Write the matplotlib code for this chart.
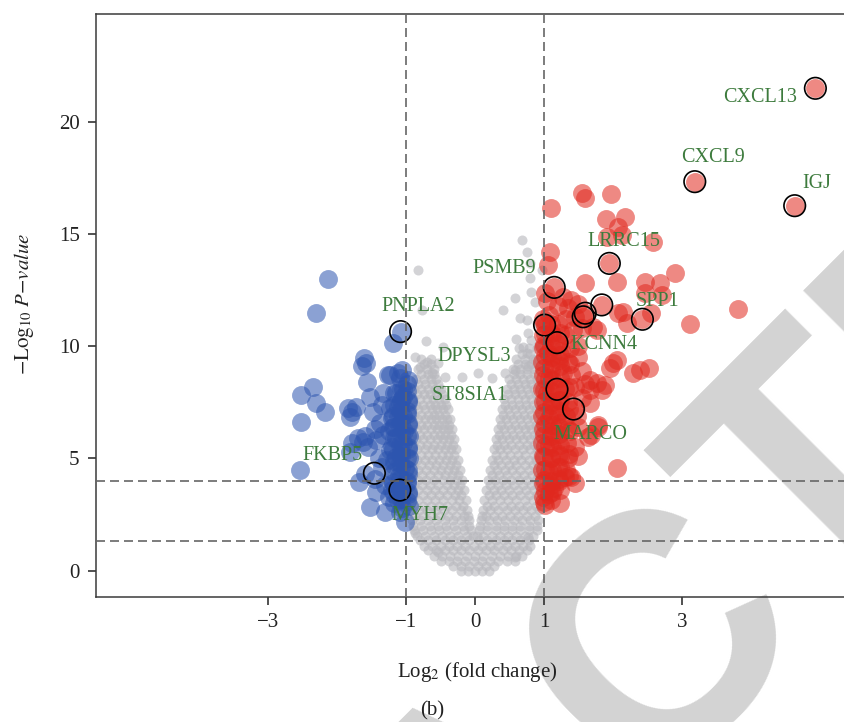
import numpy as np
import matplotlib.pyplot as plt

plt.rcParams['font.family'] = ['Liberation Serif', 'DejaVu Serif']
plt.rcParams['mathtext.fontset'] = 'stix'

# down-regulated genes (log2 fold change, -log10 p)
down_x = [-2.13, -2.30, -1.08, -1.19, -1.61, -1.58, -1.57, -1.23, -1.11, -1.06, -2.35, -2.52,
          -2.30, -2.18, -2.52, -1.52, -1.33, -1.72, -1.79, -1.81, -1.84, -1.48, -1.23, -1.04,
          -1.09, -1.11, -1.19, -1.33, -1.43, -1.62, -1.79, -1.81, -1.23, -1.14, -1.28, -1.09,
          -1.02, -2.54, -1.69, -1.43, -1.19, -1.52, -1.06, -1.11, -1.09, -1.02, -1.26, -1.09,
          -0.98, -1.05, -1.15, -0.97, -1.12, -0.98, -1.05, -1.20, -0.97, -1.10, -1.03, -1.25,
          -0.96, -1.15, -1.05, -0.97, -1.20, -1.08, -0.96, -1.18, -0.97, -1.10, -0.98, -1.20,
          -0.97, -1.25, -0.96, -1.30, -1.35, -1.40, -1.38, -1.35, -1.45, -1.60, -1.55, -1.70,
          -1.45, -1.60, -1.30, -1.64,
          -0.98, -1.08, -1.18, -0.97, -1.07, -1.17, -0.98, -1.09, -1.19, -0.97, -1.08, -1.18,
          -0.98, -1.07, -1.17, -0.97, -1.09, -1.19, -0.98, -1.08, -1.18, -0.97, -1.07, -1.17,
          -0.98, -1.09, -1.19, -0.97, -1.08, -1.18, -0.98, -1.07, -1.17, -0.97, -1.09]
down_y = [12.99, 11.47, 10.65, 10.13, 9.46, 9.24, 8.42, 8.72, 8.79, 8.94, 8.20, 7.83,
          7.46, 7.08, 6.64, 7.75, 7.90, 7.30, 7.08, 6.86, 7.23, 7.08, 7.23, 7.75,
          7.46, 6.86, 6.41, 6.04, 5.82, 5.75, 5.67, 5.30, 5.38, 5.08, 4.93, 4.78,
          4.56, 4.49, 3.97, 3.52, 3.97, 2.85, 2.78, 3.15, 2.63, 2.18, 8.72, 3.59,
          8.30, 8.10, 7.90, 7.60, 7.30, 7.10, 6.90, 6.80, 6.60, 6.50, 6.20, 6.20,
          6.00, 5.90, 5.70, 5.40, 5.50, 5.30, 5.00, 4.70, 4.30, 4.20, 3.90, 3.60,
          3.40, 3.30, 2.90, 3.80, 4.60, 5.00, 6.60, 7.40, 6.30, 6.00, 5.50, 5.90,
          4.10, 4.30, 2.60, 9.10,
          3.10, 3.20, 3.00, 3.50, 3.60, 3.40, 4.00, 4.10, 3.90, 4.50, 4.60, 4.40,
          5.00, 5.10, 4.90, 5.50, 5.60, 5.40, 6.00, 6.10, 5.90, 6.50, 6.60, 6.40,
          7.00, 7.10, 6.90, 7.50, 7.60, 7.40, 8.00, 8.10, 7.90, 8.50, 8.60]

# up-regulated genes
up_x = [4.94, 3.19, 4.64, 1.95, 1.15, 2.43, 1.84, 1.60, 1.57, 1.01, 1.19, 1.19, 1.43,
        1.55, 1.59, 1.97, 1.11, 1.90, 2.18, 2.07, 2.13, 1.91, 2.59, 1.09, 1.06, 2.06,
        1.59, 2.91, 2.47, 2.69, 2.71, 2.47, 3.82, 3.12, 2.56, 2.20, 2.08, 1.40, 1.28,
        1.02, 1.72, 1.77, 2.15, 2.01, 1.96, 2.39, 2.52, 1.67, 1.77, 1.89, 1.84, 1.67,
        1.67, 1.79, 1.64, 2.06, 1.31, 1.14, 1.02, 1.69, 1.79, 1.40, 2.29, 2.06,
        1.05, 1.20, 1.35, 1.50,
        0.98, 1.08, 1.20, 1.32, 1.45, 0.98, 1.10, 1.30, 1.42, 1.55,
        0.98, 1.06, 1.25, 1.38, 1.50, 0.97, 1.10, 1.22, 1.35, 1.50,
        0.98, 1.08, 1.28, 1.40, 1.55, 0.97, 1.05, 1.30, 1.45, 1.60,
        0.98, 1.10, 1.22, 1.35, 1.55, 0.97, 1.08, 1.20, 1.32, 1.48,
        0.98, 1.10, 1.22, 1.35, 1.50, 0.97, 1.08, 1.20, 1.33, 1.45,
        0.98, 1.10, 1.22, 1.35, 1.50, 0.97, 1.08, 1.20, 1.32, 0.98,
        1.10, 1.22, 1.45, 0.98, 1.08,
        1.00, 1.11, 1.23, 1.01, 1.12, 1.24, 1.00, 1.10, 1.22, 1.36, 1.01, 1.12, 1.24,
        1.00, 1.11, 1.23, 1.37, 1.01, 1.12, 1.24, 1.00, 1.10, 1.22, 1.38, 1.01, 1.12,
        1.24, 1.00, 1.11, 1.23, 1.36, 1.01, 1.12, 1.24, 1.00, 1.10, 1.22, 1.37, 1.01,
        1.12, 1.24, 1.00, 1.11, 1.23, 1.38, 1.01, 1.12, 1.24, 1.00, 1.10, 1.22, 1.01,
        1.12, 1.24, 1.00, 1.11]
up_y = [21.49, 17.33, 16.26, 13.69, 12.62, 11.20, 11.84, 11.47, 11.31, 10.94, 10.16, 8.08, 7.20,
        16.81, 16.59, 16.77, 16.14, 15.65, 15.77, 15.30, 14.95, 14.88, 14.66, 14.21, 13.62, 12.87,
        12.80, 13.27, 12.87, 12.80, 12.28, 12.36, 11.64, 10.99, 11.46, 11.02, 11.49, 12.06, 12.20,
        12.36, 10.87, 10.72, 11.54, 9.24, 9.02, 8.94, 9.02, 8.49, 8.35, 8.27, 8.05, 8.05,
        7.46, 6.41, 5.97, 4.56, 4.19, 3.67, 2.93, 6.04, 6.49, 4.19, 8.80, 9.40,
        12.00, 11.80, 11.70, 11.90,
        11.2, 11.4, 11.0, 11.2, 11.3, 10.5, 10.6, 10.5, 10.7, 10.8,
        9.9, 9.7, 9.8, 9.9, 10.0, 9.3, 9.2, 9.4, 9.3, 9.5,
        8.7, 8.6, 8.8, 8.7, 8.9, 8.1, 7.9, 8.1, 8.2, 8.3,
        7.5, 7.4, 7.6, 7.5, 7.7, 6.9, 6.8, 7.0, 6.9, 6.9,
        6.3, 6.2, 6.4, 6.3, 6.4, 5.7, 5.6, 5.8, 5.7, 5.5,
        5.1, 5.0, 5.2, 5.0, 5.1, 4.5, 4.4, 4.6, 4.5, 3.9,
        3.8, 4.0, 3.9, 3.3, 3.4,
        3.05, 3.15, 3.00, 3.55, 3.50, 3.60, 4.05, 4.00, 4.10, 4.20, 4.55, 4.50, 4.60,
        5.05, 5.00, 5.10, 5.20, 5.55, 5.50, 5.60, 6.05, 6.00, 6.10, 6.20, 6.55, 6.50,
        6.60, 7.05, 7.00, 7.10, 7.20, 7.55, 7.50, 7.60, 8.05, 8.00, 8.10, 8.20, 8.55,
        8.50, 8.60, 9.05, 9.00, 9.10, 9.20, 9.55, 9.50, 9.60, 10.05, 10.00, 10.10, 10.55,
        10.50, 10.60, 11.05, 11.00]

# non-significant genes: body of the volcano, one row per -log10 p level
ns_row_y = [0.0, 0.2, 0.45, 0.65, 0.9, 1.1, 1.35, 1.55, 1.8, 2.0, 2.25, 2.45, 2.7, 2.9,
            3.15, 3.35, 3.6, 3.8, 4.05, 4.25, 4.5, 4.7, 4.95, 5.15, 5.4, 5.6, 5.85, 6.05,
            6.3, 6.5, 6.75, 6.95, 7.2, 7.4, 7.65, 7.85, 8.1, 8.3, 8.55, 8.75, 9.0, 9.2,
            9.45, 9.65, 9.9]
ns_row_x = [
    [-0.2, -0.1, 0.0, 0.1, 0.2],
    [-0.32, -0.2, -0.08, 0.04, 0.16, 0.28],
    [-0.5, -0.38, -0.26, -0.14, -0.02, 0.1, 0.22, 0.34, 0.46, 0.58],
    [-0.6, -0.48, -0.36, -0.24, -0.12, 0.0, 0.12, 0.24, 0.36, 0.48, 0.6, 0.68],
    [-0.68, -0.56, -0.44, -0.32, -0.2, -0.08, 0.04, 0.16, 0.28, 0.4, 0.52, 0.64, 0.76],
    [-0.74, -0.62, -0.5, -0.38, -0.26, -0.14, -0.02, 0.1, 0.22, 0.34, 0.46, 0.58, 0.7, 0.8],
    [-0.8, -0.68, -0.56, -0.44, -0.32, -0.2, -0.08, 0.06, 0.18, 0.3, 0.42, 0.54, 0.66, 0.78],
    [-0.84, -0.72, -0.6, -0.48, -0.36, -0.24, -0.12, -0.03, 0.03, 0.12, 0.24, 0.36, 0.48, 0.6, 0.72, 0.84],
    [-0.88, -0.76, -0.64, -0.52, -0.4, -0.28, -0.16, -0.06, 0.06, 0.18, 0.3, 0.42, 0.54, 0.66, 0.78, 0.9],
    [-0.9, -0.78, -0.66, -0.54, -0.42, -0.3, -0.18, -0.08, 0.08, 0.18, 0.3, 0.42, 0.54, 0.66, 0.78, 0.9],
    [-0.92, -0.8, -0.68, -0.56, -0.44, -0.32, -0.2, -0.09, 0.09, 0.2, 0.32, 0.44, 0.56, 0.68, 0.8, 0.92],
    [-0.87, -0.75, -0.63, -0.51, -0.39, -0.27, -0.16, -0.1, 0.1, 0.16, 0.27, 0.39, 0.51, 0.63, 0.75, 0.87],
    [-0.93, -0.81, -0.69, -0.57, -0.45, -0.33, -0.21, -0.11, 0.11, 0.22, 0.34, 0.46, 0.58, 0.7, 0.82, 0.93],
    [-0.88, -0.76, -0.64, -0.52, -0.4, -0.28, -0.17, 0.17, 0.28, 0.4, 0.52, 0.64, 0.76, 0.88],
    [-0.94, -0.82, -0.7, -0.58, -0.46, -0.34, -0.23, -0.13, 0.13, 0.24, 0.36, 0.48, 0.6, 0.72, 0.84, 0.94],
    [-0.88, -0.76, -0.64, -0.52, -0.4, -0.29, -0.2, 0.2, 0.3, 0.42, 0.54, 0.66, 0.78, 0.9],
    [-0.94, -0.82, -0.7, -0.58, -0.46, -0.35, -0.24, -0.16, 0.16, 0.27, 0.38, 0.5, 0.62, 0.74, 0.86, 0.95],
    [-0.89, -0.77, -0.65, -0.53, -0.41, -0.31, -0.22, 0.22, 0.33, 0.45, 0.57, 0.69, 0.81, 0.91],
    [-0.95, -0.83, -0.71, -0.59, -0.47, -0.36, -0.26, -0.19, 0.19, 0.29, 0.4, 0.52, 0.64, 0.76, 0.88, 0.95],
    [-0.89, -0.77, -0.65, -0.54, -0.43, -0.33, -0.24, 0.24, 0.35, 0.47, 0.59, 0.71, 0.83, 0.92],
    [-0.95, -0.83, -0.71, -0.6, -0.49, -0.39, -0.3, -0.22, 0.22, 0.32, 0.43, 0.54, 0.66, 0.78, 0.9, 0.96],
    [-0.9, -0.78, -0.67, -0.56, -0.46, -0.36, -0.27, 0.27, 0.38, 0.49, 0.6, 0.72, 0.84, 0.92],
    [-0.95, -0.84, -0.73, -0.62, -0.52, -0.42, -0.33, -0.25, 0.25, 0.34, 0.45, 0.56, 0.67, 0.78, 0.89, 0.96],
    [-0.9, -0.79, -0.68, -0.58, -0.48, -0.39, -0.3, 0.3, 0.4, 0.51, 0.62, 0.73, 0.85, 0.92],
    [-0.95, -0.84, -0.73, -0.63, -0.53, -0.44, -0.35, -0.27, 0.27, 0.37, 0.47, 0.58, 0.69, 0.8, 0.9, 0.96],
    [-0.9, -0.8, -0.7, -0.6, -0.5, -0.41, -0.32, 0.32, 0.42, 0.53, 0.64, 0.75, 0.86, 0.92],
    [-0.95, -0.85, -0.75, -0.65, -0.55, -0.46, -0.37, -0.3, 0.3, 0.39, 0.49, 0.6, 0.7, 0.8, 0.9, 0.96],
    [-0.9, -0.8, -0.7, -0.6, -0.51, -0.43, -0.35, 0.35, 0.45, 0.55, 0.66, 0.76, 0.86, 0.92],
    [-0.94, -0.84, -0.74, -0.64, -0.55, -0.47, -0.39, -0.33, 0.33, 0.42, 0.52, 0.62, 0.72, 0.82, 0.9, 0.96],
    [-0.89, -0.79, -0.69, -0.6, -0.52, -0.45, -0.38, 0.38, 0.48, 0.58, 0.68, 0.78, 0.88, 0.93],
    [-0.93, -0.83, -0.73, -0.64, -0.56, -0.48, -0.41, -0.36, 0.36, 0.45, 0.55, 0.65, 0.75, 0.85, 0.95],
    [-0.88, -0.78, -0.68, -0.6, -0.52, -0.44, 0.41, 0.51, 0.61, 0.71, 0.81, 0.91],
    [-0.92, -0.82, -0.72, -0.63, -0.55, -0.47, -0.39, 0.39, 0.48, 0.58, 0.68, 0.78, 0.88, 0.96],
    [-0.86, -0.76, -0.66, -0.58, -0.5, -0.42, 0.44, 0.54, 0.64, 0.74, 0.84, 0.93],
    [-0.9, -0.8, -0.7, -0.61, -0.52, -0.44, 0.42, 0.52, 0.62, 0.72, 0.82, 0.92],
    [-0.84, -0.74, -0.65, -0.56, -0.48, 0.48, 0.58, 0.68, 0.78, 0.88],
    [-0.88, -0.78, -0.68, -0.58, -0.5, 0.46, 0.56, 0.66, 0.76, 0.86, 0.95],
    [-0.82, -0.72, -0.62, -0.54, 0.52, 0.62, 0.72, 0.82, 0.92],
    [-0.85, -0.74, -0.64, -0.56, 0.5, 0.6, 0.7, 0.8, 0.9],
    [-0.78, -0.68, -0.6, 0.56, 0.66, 0.76, 0.86],
    [-0.82, -0.7, -0.6, 0.55, 0.66, 0.76, 0.86, 0.94],
    [-0.74, -0.64, 0.62, 0.72, 0.82, 0.9],
    [-0.78, -0.64, 0.6, 0.72, 0.84, 0.93],
    [0.68, 0.8],
    [0.64, 0.78, 0.9],
]
ns_extra_x = [0.68, 0.75, 0.80, 0.97, 0.58, 0.80, 0.82, 0.87, 0.41, 0.65, 0.75, 0.90, 0.77,
              0.82, 0.70, 0.75, -0.83, -0.77, -0.71, -0.47, -0.87, -0.70, -0.53, -0.80, -0.63,
              -0.44, -0.19, 0.04, 0.25, 0.43, 0.58, 0.77, 0.87, 0.60, 0.92, 0.77, 0.58, -0.54, -0.87]
ns_extra_y = [14.73, 14.21, 13.69, 13.40, 12.13, 13.02, 12.43, 11.98, 11.61, 11.24, 11.17, 11.02, 10.57,
              10.28, 9.98, 9.68, 13.39, 11.61, 10.24, 9.98, 9.53, 9.31, 9.24, 9.09, 8.79,
              8.64, 8.64, 8.80, 8.60, 8.80, 8.95, 9.10, 9.40, 10.30, 10.00, 1.50, 0.60, 0.83, 1.70]

# highlighted genes
genes = ['CXCL13', 'CXCL9', 'IGJ', 'LRRC15', 'PSMB9', 'SPP1', 'KCNN4', 'DPYSL3',
         'ST8SIA1', 'MARCO', 'PNPLA2', 'FKBP5', 'MYH7', '', '', '']
gene_x = [4.94, 3.19, 4.64, 1.95, 1.15, 2.43, 1.19, 1.01, 1.19, 1.43, -1.08, -1.46, -1.09,
          1.84, 1.60, 1.57]
gene_y = [21.49, 17.33, 16.26, 13.69, 12.62, 11.20, 10.16, 10.94, 8.08, 7.20, 10.65, 4.34, 3.59,
          11.84, 11.47, 11.31]
# label offsets in pixels
lab_dx = [-55, 18, 22, 15, -50, 15, 47, -70, -87, 17, 18, -42, 20, 0, 0, 0]
lab_dy = [-9, 24, 22, 22, 19, 18, -2, -31, -6, -25, 25, 18, -25, 0, 0, 0]

ns_x, ns_y = [], []
for yv, xs in zip(ns_row_y, ns_row_x):
    ns_x += xs
    ns_y += [yv] * len(xs)
ns_x += ns_extra_x
ns_y += ns_extra_y

fig = plt.figure(figsize=(8.45, 7.22), dpi=100)
ax = fig.add_axes([96 / 845, 125.3 / 722, 749 / 845, 582.7 / 722])
ax.patch.set_alpha(0)

# watermark behind the axes
wm = dict(rotation=45, rotation_mode='anchor', va='baseline', fontsize=245,
          family='Liberation Sans', weight='bold', color='#D3D3D3', zorder=-1)
fig.text(0.9616, 0.14654, 'RETRAC', ha='right', **wm)
fig.text(0.9530, 0.14626, 'TED', ha='left', **wm)

ax.scatter(ns_x, ns_y, s=52, color=(185/255, 185/255, 190/255), alpha=0.62, linewidths=0, zorder=2)
ax.scatter(down_x, down_y, s=185, color='#2D55AF', alpha=0.55, linewidths=0, zorder=3)
ax.scatter(up_x, up_y, s=185, color='#E0281E', alpha=0.55, linewidths=0, zorder=3)
ax.scatter(gene_x, gene_y, s=240, facecolors='none', edgecolors='black', linewidths=1.2, zorder=4)

ls = (0, (5.4, 3))
for xv in [-1, 1]:
    ax.axvline(xv, color='#666666', lw=1.2, linestyle=ls, zorder=5)
for yv in [4, -np.log10(0.05)]:
    ax.axhline(yv, color='#666666', lw=1.2, linestyle=ls, zorder=5)

for g, gx, gy, dx, dy in zip(genes, gene_x, gene_y, lab_dx, lab_dy):
    if g:
        ax.annotate(g, (gx, gy), xytext=(dx, dy), textcoords='offset pixels',
                    ha='center', va='center', fontsize=14.5, color='#3D7B3D', zorder=6)

ax.set_xlim(-5.50, 5.37)
ax.set_ylim(-1.16, 24.8)
ax.set_xticks([-3, -1, 0, 1, 3])
ax.set_xticklabels(['\u22123', '\u22121', '0', '1', '3'])
ax.set_yticks([0, 5, 10, 15, 20])
ax.tick_params(direction='out', length=5.8, width=1.1, pad=6, labelsize=15,
               color='#222222', labelcolor='#222222')
ax.spines['right'].set_visible(False)
for sp in ['left', 'bottom', 'top']:
    ax.spines[sp].set_linewidth(1.1)
    ax.spines[sp].set_color('#3a3a3a')

fig.text(477 / 845, 1 - 677 / 722, r'Log$_2$ (fold change)', ha='center', va='baseline',
         fontsize=15, color='#222222')
fig.text(24 / 845, 1 - 304 / 722, r'$-\mathrm{Log}_{10}\ P{-}value$', rotation=90,
         ha='center', va='center', fontsize=15, color='#222222')
fig.text(432 / 845, 1 - 715 / 722, '(b)', ha='center', va='baseline', fontsize=15,
         color='#222222')

fig.savefig('out.png', dpi=100)
